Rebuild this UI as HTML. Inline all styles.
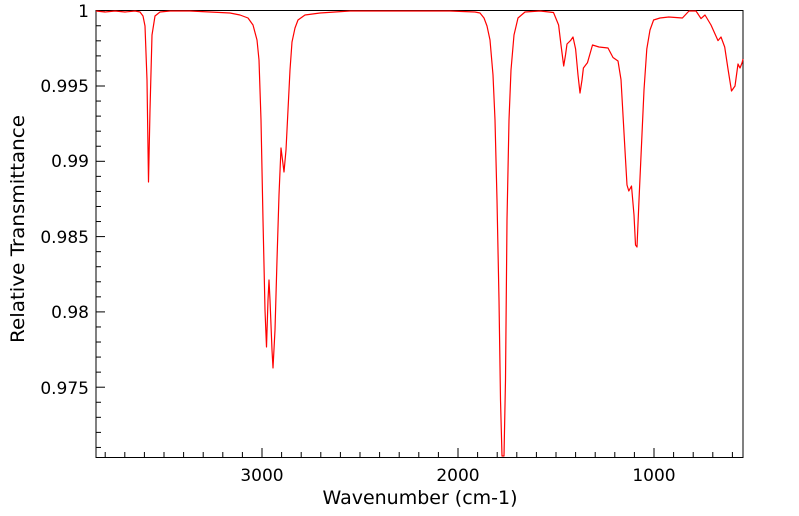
<!DOCTYPE html>
<html><head><meta charset="utf-8"><style>
body{margin:0;background:#fff}
svg{display:block}
text{font-family:"DejaVu Sans","Liberation Sans",sans-serif;fill:#000}
</style></head><body>
<svg width="799" height="516" viewBox="0 0 799 516" xmlns="http://www.w3.org/2000/svg">
<rect x="96" y="10.5" width="647" height="447" fill="none" stroke="#000" stroke-width="1"/>
<g stroke="#000" stroke-width="1" id="ticks"></g>
<g font-size="17" text-anchor="end">
<text x="89" y="17">1</text>
<text x="89" y="92">0.995</text>
<text x="89" y="167">0.99</text>
<text x="89" y="243">0.985</text>
<text x="89" y="318">0.98</text>
<text x="89" y="394">0.975</text>
</g>
<g font-size="17" text-anchor="middle">
<text x="262" y="481">3000</text>
<text x="458" y="481">2000</text>
<text x="654" y="481">1000</text>
</g>
<g font-size="19" text-anchor="middle">
<text x="420" y="504" textLength="195" lengthAdjust="spacingAndGlyphs">Wavenumber (cm-1)</text>
<text transform="translate(24,229) rotate(-90)" textLength="228" lengthAdjust="spacingAndGlyphs">Relative Transmittance</text>
</g>
<polyline fill="none" stroke="#f00" stroke-width="1.2" stroke-linejoin="round" points="
96,11 105,12 115,11 125,12 135,11 140,12 143,16 145,26 147,80 148.5,182 150,110 152,35 155,16 160,12 170,11 190,11 210,12 230,13 240,15 248,18 253,25 257,40 259,60 261,120 263,220 265,310 266.5,347 268,300 269,280 270,300 272,350 273,368 275,330 277,260 279,195 281,148 282.5,160 284,172 286,150 288,110 290,70 292,42 295,28 298,20 305,15 320,13 350,11 400,11 450,11 475,12 480,13 484,18 487,26 490,40 493,75 495,120 497,200 499,300 500.5,400 502,456 504,456 505.5,380 507,220 509,120 511,70 514,35 518,18 525,12 540,11 553.5,12.5 558.6,25 561,45 563.7,66 565.5,55 567,44 570.5,40.6 573,37 575.6,49 578,75 580,93 582,80 583.4,68 587.5,62.6 592.5,45 599,47 608,48 613,57.5 618,61 621,79.6 623,115 625.4,157.5 627,185 628.8,191 631.5,186 634,215 635.5,245 637,247 639,200 641.7,140.6 644,90 646.8,49 650,30 653.6,20 660,18 668.8,17 682.4,18 689,11 696,11 698,14 701,18.6 705,15 711,25 718,40.6 721,37 724.7,47 728,69 731.5,91 735,86 738,64 740,68 742,63 743,59"/>
</svg>
<script>
var g=document.getElementById('ticks'),s='';
for(var w=3800;w>=600;w-=100){var x=262+(3000-w)*0.196;if(x<96||x>743)continue;var major=w%1000==0;s+='<line x1="'+x+'" x2="'+x+'" y1="457.5" y2="'+(major?448:452)+'"/>';}
for(var i=0;i<=29;i++){var y=10.7+i*15.06;if(y>457)break;var major=i%5==0;s+='<line x1="96" x2="'+(major?105:101)+'" y1="'+y+'" y2="'+y+'"/>';}
g.innerHTML=s;
</script>
</body></html>
